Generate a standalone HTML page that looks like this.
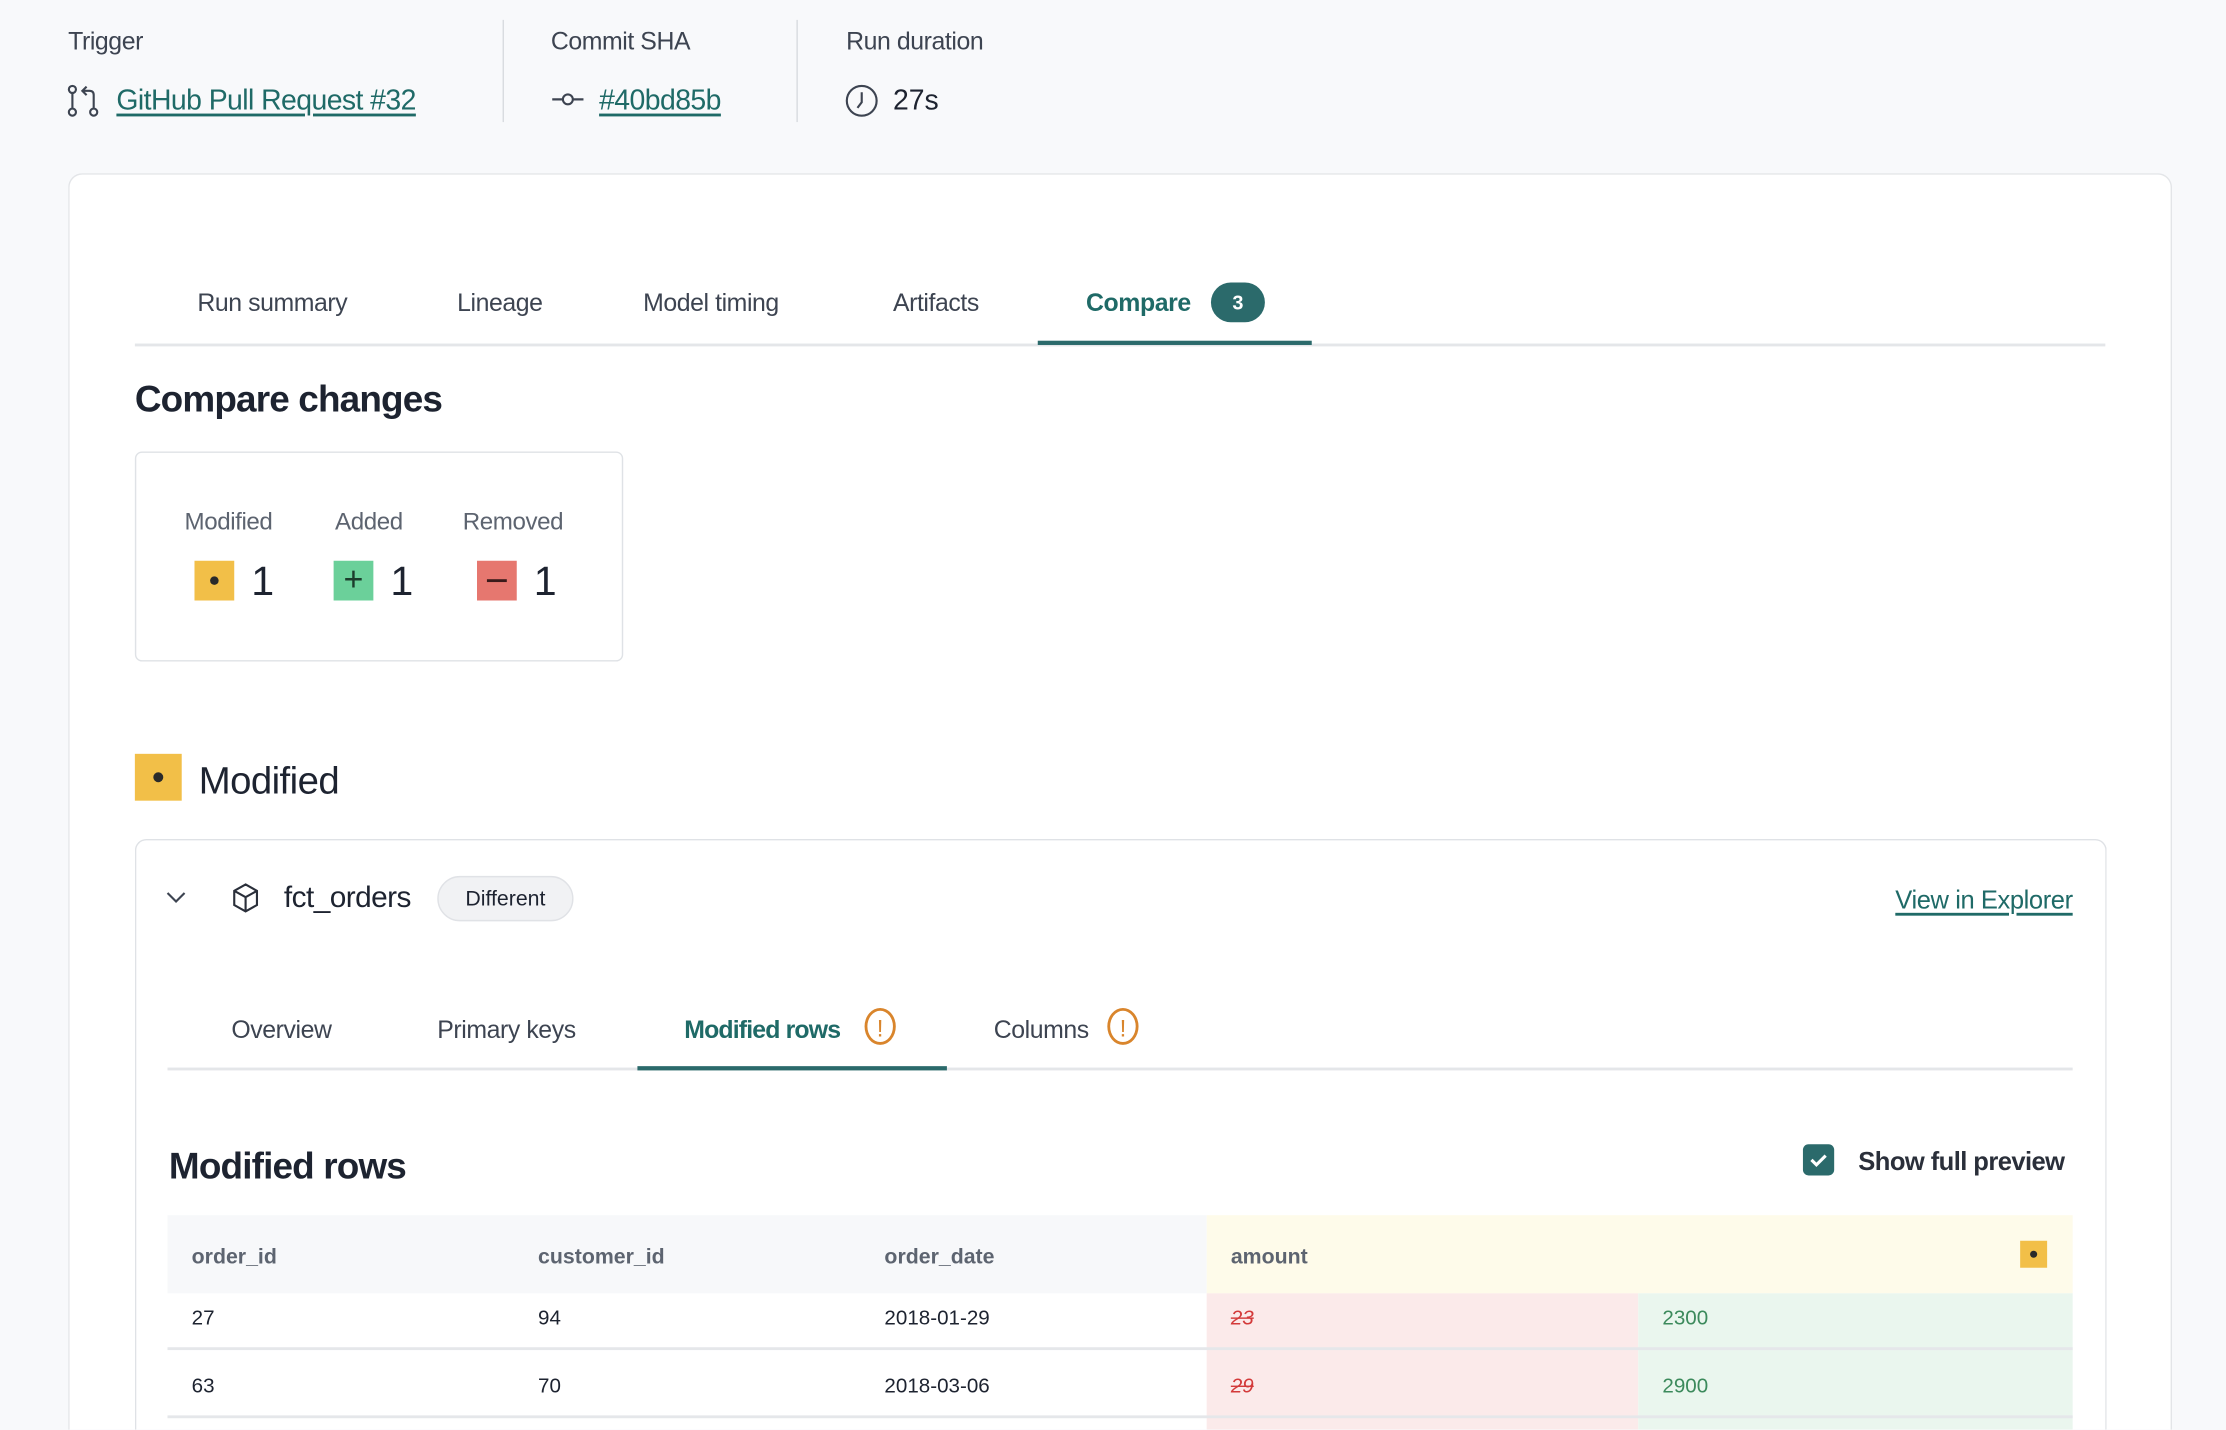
<!DOCTYPE html>
<html><head><meta charset="utf-8"><style>
html,body{margin:0;padding:0;background:#f8f9fb;overflow:hidden;width:2226px;height:1430px}
#w{position:absolute;left:0;top:0;width:1568px;height:1007px;overflow:hidden;transform:scale(1.41964);transform-origin:0 0;font-family:"Liberation Sans",sans-serif;color:#1d2330}
.a{position:absolute;white-space:nowrap}
.t{position:absolute;white-space:nowrap;margin-top:2px}
.lbl{font-size:17.5px;color:#3d4451;letter-spacing:-0.3px}
.lnk{color:#1f6a67;text-decoration:underline;text-decoration-thickness:1.5px;text-underline-offset:3px}
.tab{font-size:17.5px;color:#3d4451;letter-spacing:-0.3px}
</style></head><body><div id="w">
<div class="t lbl" style="left:48px;top:17px">Trigger</div>
<div class="t lbl" style="left:388px;top:17px">Commit SHA</div>
<div class="t lbl" style="left:596px;top:17px">Run duration</div>
<div class="a" style="left:354px;top:14px;width:1px;height:72px;background:#d8dbe0"></div>
<div class="a" style="left:561px;top:14px;width:1px;height:72px;background:#d8dbe0"></div>
<svg class="a" style="left:47px;top:59px" width="24" height="24" viewBox="0 0 24 24" fill="none" stroke="#3d4451" stroke-width="1.5"><circle cx="4" cy="4" r="2.5"/><circle cx="4" cy="20" r="2.5"/><circle cx="19" cy="20" r="2.5"/><path d="M4 7v10M19 17V8q0-3-3-3h-4M14 2l-3 3 3 3"/></svg>
<div class="t lnk" style="left:82px;top:58px;font-size:20px;letter-spacing:-0.4px">GitHub Pull Request #32</div>
<svg class="a" style="left:388px;top:62px" width="24" height="16" viewBox="0 0 24 16" fill="none" stroke="#3d4451" stroke-width="1.5"><circle cx="12" cy="8" r="3.5"/><path d="M1 8h7.5M15.5 8H23"/></svg>
<div class="t lnk" style="left:422px;top:58px;font-size:20px;letter-spacing:-0.4px">#40bd85b</div>
<svg class="a" style="left:595px;top:59px" width="24" height="24" viewBox="0 0 24 24" fill="none" stroke="#3d4451" stroke-width="1.5"><circle cx="12" cy="12" r="10.5"/><path d="M12 6v7l-3 4"/></svg>
<div class="t" style="left:629px;top:58px;font-size:20px">27s</div>

<div class="a" style="left:48px;top:122px;width:1480px;height:885px;background:#fff;border:1px solid #e3e5e8;border-bottom:none;border-radius:10px 10px 0 0"></div>
<div class="t tab" style="left:139px;top:201px">Run summary</div>
<div class="t tab" style="left:322px;top:201px">Lineage</div>
<div class="t tab" style="left:453px;top:201px">Model timing</div>
<div class="t tab" style="left:629px;top:201px">Artifacts</div>
<div class="t tab" style="left:765px;top:201px;color:#1f6a67;font-weight:bold">Compare</div>
<div class="a" style="left:853px;top:199px;width:38px;height:28px;border-radius:14px;background:#2b6a6b;color:#fff;font-size:14px;font-weight:bold;text-align:center;line-height:28px">3</div>
<div class="a" style="left:95px;top:242px;width:1388px;height:2px;background:#e4e6e9"></div>
<div class="a" style="left:731px;top:240px;width:193px;height:3px;background:#2b6a6b"></div>
<div class="t" style="left:95px;top:264px;font-size:26px;font-weight:bold;letter-spacing:-0.6px">Compare changes</div>

<div class="a" style="left:95px;top:318px;width:342px;height:146px;border:1px solid #dfe2e6;border-radius:5px"></div>
<div class="t" style="left:130px;top:356px;font-size:17px;color:#5d6470;letter-spacing:-0.3px">Modified</div>
<div class="t" style="left:236px;top:356px;font-size:17px;color:#5d6470;letter-spacing:-0.3px">Added</div>
<div class="t" style="left:326px;top:356px;font-size:17px;color:#5d6470;letter-spacing:-0.3px">Removed</div>
<div class="a" style="left:137px;top:395px;width:28px;height:28px;background:#f2bf48"><div style="position:absolute;left:11px;top:11px;width:6px;height:6px;border-radius:3px;background:#2a2a2a"></div></div>
<div class="a" style="left:235px;top:395px;width:28px;height:28px;background:#6bd09a;text-align:center;line-height:27px;font-size:24px;color:#1c3c2c">+</div>
<div class="a" style="left:336px;top:395px;width:28px;height:28px;background:#e6776f"><div style="position:absolute;left:7px;top:13px;width:14px;height:2px;background:#3a1a1a"></div></div>
<div class="t" style="left:177px;top:392px;font-size:29px">1</div>
<div class="t" style="left:275px;top:392px;font-size:29px">1</div>
<div class="t" style="left:376px;top:392px;font-size:29px">1</div>

<div class="a" style="left:95px;top:531px;width:33px;height:33px;background:#f2bf48"><div style="position:absolute;left:13px;top:13px;width:7px;height:7px;border-radius:4px;background:#2a2a2a"></div></div>
<div class="t" style="left:140px;top:533px;font-size:27px;letter-spacing:-0.4px">Modified</div>

<div class="a" style="left:95px;top:591px;width:1387px;height:416px;border:1px solid #dfe2e6;border-bottom:none;border-radius:8px 8px 0 0"></div>
<svg class="a" style="left:117px;top:627px" width="14" height="10" viewBox="0 0 14 10" fill="none" stroke="#3d4451" stroke-width="1.5"><path d="M1 2l6 6 6-6"/></svg>
<svg class="a" style="left:163px;top:622px" width="20" height="22" viewBox="0 0 20 22" fill="none" stroke="#2a2f3a" stroke-width="1.5"><path d="M10 1l8 4.5v10L10 20 2 15.5v-10zM2 5.5l8 4.5 8-4.5M10 10v10"/></svg>
<div class="t" style="left:200px;top:619px;font-size:21px;letter-spacing:-0.4px">fct_orders</div>
<div class="a" style="left:308px;top:617px;width:96px;height:32px;border:1px solid #e0e2e6;border-radius:16px;background:#f1f2f4;font-size:15px;text-align:center;line-height:32px;box-sizing:border-box">Different</div>
<div class="t lnk" style="right:108px;top:622px;font-size:18px;letter-spacing:-0.3px">View in Explorer</div>

<div class="t tab" style="left:163px;top:713px">Overview</div>
<div class="t tab" style="left:308px;top:713px">Primary keys</div>
<div class="t tab" style="left:482px;top:713px;color:#1f6a67;font-weight:bold;letter-spacing:-0.6px">Modified rows</div>
<div class="t tab" style="left:700px;top:713px">Columns</div>
<div class="a" style="left:609px;top:710px;width:22px;height:26px;border:2px solid #d9852c;border-radius:50%;color:#d9852c;font-size:17px;text-align:center;line-height:25px;box-sizing:border-box">!</div>
<div class="a" style="left:780px;top:710px;width:22px;height:26px;border:2px solid #d9852c;border-radius:50%;color:#d9852c;font-size:17px;text-align:center;line-height:25px;box-sizing:border-box">!</div>
<div class="a" style="left:118px;top:752px;width:1342px;height:2px;background:#e4e6e9"></div>
<div class="a" style="left:449px;top:751px;width:218px;height:3px;background:#2b6a6b"></div>

<div class="t" style="left:119px;top:804px;font-size:26px;font-weight:bold;letter-spacing:-0.6px">Modified rows</div>
<div class="a" style="left:1270px;top:806px;width:22px;height:22px;border-radius:4px;background:#2b6a6b"><svg width="22" height="22" viewBox="0 0 22 22"><path d="M6 11l3.5 3.5L16 8" fill="none" stroke="#fff" stroke-width="2.2"/></svg></div>
<div class="t" style="left:1309px;top:806px;font-size:18px;font-weight:bold;color:#2a2f3a;letter-spacing:-0.4px">Show full preview</div>

<div class="a" style="left:118px;top:856px;width:732px;height:55px;background:#f7f8fa"></div>
<div class="a" style="left:850px;top:856px;width:610px;height:55px;background:#fefbea"></div>
<div class="a" style="left:1423px;top:874px;width:19px;height:19px;background:#f2bf48"><div style="position:absolute;left:7px;top:7px;width:5px;height:5px;border-radius:3px;background:#2a2a2a"></div></div>
<div class="t" style="left:135px;top:875px;font-size:15px;font-weight:bold;color:#5d6470">order_id</div>
<div class="t" style="left:379px;top:875px;font-size:15px;font-weight:bold;color:#5d6470">customer_id</div>
<div class="t" style="left:623px;top:875px;font-size:15px;font-weight:bold;color:#5d6470">order_date</div>
<div class="t" style="left:867px;top:875px;font-size:15px;font-weight:bold;color:#5d6470">amount</div>

<div class="a" style="left:850px;top:911px;width:304px;height:96px;background:#fbeaea"></div>
<div class="a" style="left:1154px;top:911px;width:306px;height:96px;background:#eaf6ee"></div>
<div class="a" style="left:118px;top:949px;width:1342px;height:2px;background:#e5e7ea"></div>
<div class="a" style="left:118px;top:997px;width:1342px;height:2px;background:#e5e7ea"></div>
<div class="t" style="left:135px;top:919px;font-size:14.5px">27</div>
<div class="t" style="left:379px;top:919px;font-size:14.5px">94</div>
<div class="t" style="left:623px;top:919px;font-size:14.5px">2018-01-29</div>
<div class="t" style="left:867px;top:919px;font-size:14.5px;color:#d33a3a;text-decoration:line-through;font-style:italic">23</div>
<div class="t" style="left:1171px;top:919px;font-size:14.5px;color:#3c8a5c">2300</div>
<div class="t" style="left:135px;top:967px;font-size:14.5px">63</div>
<div class="t" style="left:379px;top:967px;font-size:14.5px">70</div>
<div class="t" style="left:623px;top:967px;font-size:14.5px">2018-03-06</div>
<div class="t" style="left:867px;top:967px;font-size:14.5px;color:#d33a3a;text-decoration:line-through;font-style:italic">29</div>
<div class="t" style="left:1171px;top:967px;font-size:14.5px;color:#3c8a5c">2900</div>
</div></body></html>
